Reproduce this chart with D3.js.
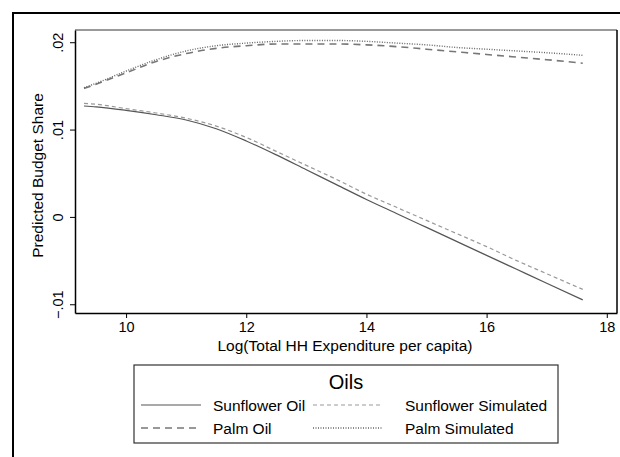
<!DOCTYPE html>
<meta charset="utf-8">
<script src="https://d3js.org/d3.v7.min.js"></script>
<style>
    body { margin: 0; background: #fff; }
    text { font-family: "Liberation Sans", Arial, Helvetica, sans-serif; fill: #000; }
</style>
<div id="chart"></div>
<script>

    // data
    var xValues = [9.3, 9.5, 10, 10.5, 11, 11.5, 12, 12.5, 13, 13.5, 14, 14.5, 15, 15.5, 16, 16.5, 17, 17.6];
    var sunflowerOil = [0.0127, 0.0126, 0.0122, 0.0117, 0.0111, 0.0101, 0.0087, 0.0071, 0.0054, 0.0037, 0.0020, 0.0004, -0.0012, -0.0028, -0.0044, -0.0060, -0.0076, -0.0095];
    var sunflowerSim = [0.0130, 0.0129, 0.0124, 0.0119, 0.0113, 0.0104, 0.0091, 0.0075, 0.0059, 0.0043, 0.0026, 0.0011, -0.0004, -0.0019, -0.0034, -0.0050, -0.0065, -0.0083];
    var palmOil = [0.0147, 0.0152, 0.0165, 0.0178, 0.0187, 0.0193, 0.0196, 0.0198, 0.0198, 0.0198, 0.0197, 0.0195, 0.0192, 0.0189, 0.0186, 0.0183, 0.0180, 0.0176];
    var palmSim = [0.0148, 0.0153, 0.0167, 0.0180, 0.0190, 0.0196, 0.0199, 0.0201, 0.0202, 0.0202, 0.0201, 0.0199, 0.0197, 0.0194, 0.0192, 0.0190, 0.0188, 0.0185];
    var xTicks = [10, 12, 14, 16, 18];
    var yTicks = [-0.01, 0, 0.01, 0.02];
    var seriesNames = ["Sunflower Oil", "Palm Oil", "Sunflower Simulated", "Palm Simulated"];

    var W = 620, H = 457;
    var plot = { left: 75, top: 30, right: 617, bottom: 313 };

    var svg = d3.select("#chart").append("svg")
        .attr("width", W)
        .attr("height", H);

    // outer graph frame (runs off the right and bottom edges)
    svg.append("rect")
        .attr("x", 13).attr("y", 13)
        .attr("width", 640).attr("height", 470)
        .attr("fill", "none").attr("stroke", "#000").attr("stroke-width", 2);

    var x = d3.scaleLinear().domain([9.15, 18.17]).range([plot.left, plot.right]);
    var y = d3.scaleLinear().domain([-0.0110, 0.0214]).range([plot.bottom, plot.top]);

    // plot region border
    svg.append("line")
        .attr("x1", plot.left).attr("x2", plot.right)
        .attr("y1", plot.top).attr("y2", plot.top)
        .attr("stroke", "#777").attr("stroke-width", 1.5);
    svg.append("line")
        .attr("x1", plot.right).attr("x2", plot.right)
        .attr("y1", plot.top).attr("y2", plot.bottom)
        .attr("stroke", "#000").attr("stroke-width", 1.5);

    var fmt = function (d) { return d === 0 ? "0" : d3.format(".2f")(d).replace("0.", "."); };

    // axes
    var xAxis = svg.append("g")
        .attr("transform", "translate(0," + plot.bottom + ")")
        .call(d3.axisBottom(x).tickValues(xTicks).tickSize(5).tickPadding(4).tickSizeOuter(0));
    var yAxis = svg.append("g")
        .attr("transform", "translate(" + plot.left + ",0)")
        .call(d3.axisLeft(y).tickValues(yTicks).tickFormat(fmt).tickSize(5).tickSizeOuter(0));

    svg.selectAll(".domain").attr("stroke", "#000").attr("stroke-width", 1.5);
    svg.selectAll(".tick line").attr("stroke", "#000");
    xAxis.selectAll("text")
        .style("font-size", "14.5px")
        .style("font-family", "'Liberation Sans', Arial, sans-serif");
    yAxis.selectAll("text")
        .attr("x", null).attr("dy", null)
        .attr("text-anchor", "middle")
        .attr("transform", "translate(-12,0) rotate(-90)")
        .style("font-size", "14.5px")
        .style("font-family", "'Liberation Sans', Arial, sans-serif");

    // axis titles
    svg.append("text")
        .attr("x", 345)
        .attr("y", 351)
        .attr("text-anchor", "middle")
        .style("font-size", "15.5px")
        .text("Log(Total HH Expenditure per capita)");
    svg.append("text")
        .attr("transform", "translate(43," + ((plot.top + plot.bottom) / 2 + 4) + ") rotate(-90)")
        .attr("text-anchor", "middle")
        .style("font-size", "15.5px")
        .text("Predicted Budget Share");

    // series
    var styles = [
        { values: sunflowerOil, color: "#555", width: 1.2, dash: null },
        { values: palmOil, color: "#777", width: 1.6, dash: "7,5" },
        { values: sunflowerSim, color: "#999", width: 1.2, dash: "4,3" },
        { values: palmSim, color: "#666", width: 1.4, dash: "1,1.5" }
    ];

    var line = d3.line()
        .x(function (d) { return x(d[0]); })
        .y(function (d) { return y(d[1]); })
        .curve(d3.curveMonotoneX);

    styles.forEach(function (s) {
        svg.append("path")
            .datum(xValues.map(function (v, i) { return [v, s.values[i]]; }))
            .attr("d", line)
            .attr("fill", "none")
            .attr("stroke", s.color)
            .attr("stroke-width", s.width)
            .attr("stroke-dasharray", s.dash);
    });

    // legend
    var legend = svg.append("g");
    legend.append("rect")
        .attr("x", 134).attr("y", 365)
        .attr("width", 424).attr("height", 78)
        .attr("fill", "#fff").attr("stroke", "#333").attr("stroke-width", 1.2);
    legend.append("text")
        .attr("x", 346).attr("y", 389)
        .attr("text-anchor", "middle")
        .style("font-size", "20px")
        .text("Oils");

    var slots = [
        { x: 141, y: 405 }, { x: 141, y: 428 },
        { x: 313, y: 405 }, { x: 313, y: 428 }
    ];
    var textX = [213, 213, 405, 405];
    seriesNames.forEach(function (name, i) {
        var s = styles[i], p = slots[i];
        legend.append("line")
            .attr("x1", p.x).attr("x2", p.x + 60 + (i >= 2 ? 10 : 0))
            .attr("y1", p.y).attr("y2", p.y)
            .attr("stroke", s.color)
            .attr("stroke-width", s.width)
            .attr("stroke-dasharray", s.dash);
        legend.append("text")
            .attr("x", textX[i]).attr("y", p.y + 5.5)
            .style("font-size", "15.5px")
            .text(name);
    });

</script>
